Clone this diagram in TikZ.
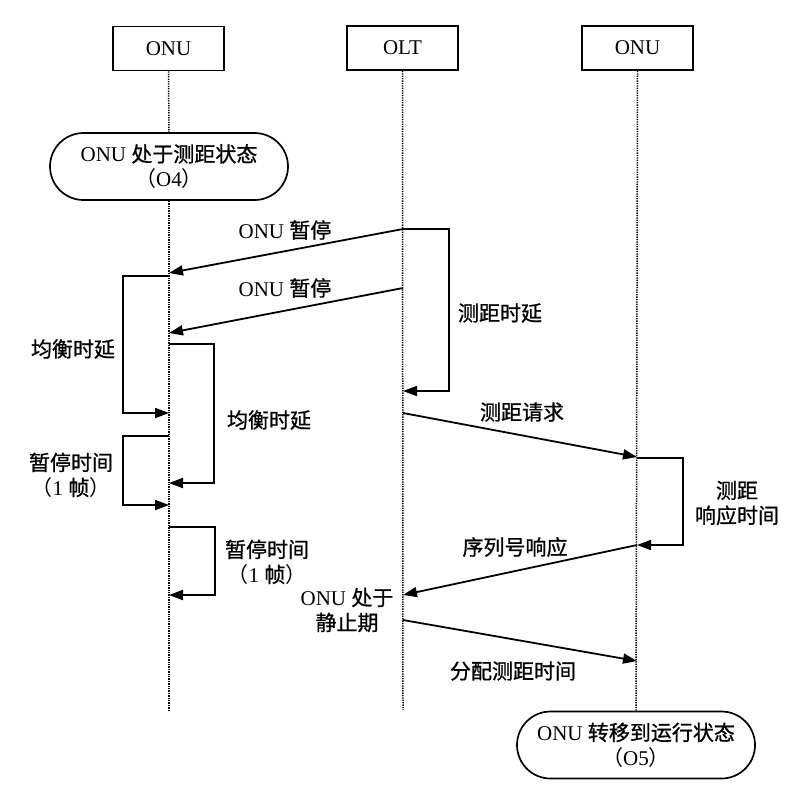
\documentclass[tikz,border=0pt]{standalone}
\usepackage{fontspec}
\setmainfont{Liberation Serif}
\newfontfamily\cjk[FakeBold=0.9]{Noto Sans CJK SC}
\newfontfamily\cjkplain{Noto Sans CJK SC}
\newcommand\zhtext[1]{{\cjk #1}}
\newcommand\zhparen[1]{{\cjkplain #1}}
\usetikzlibrary{arrows.meta,shapes.misc}
\begin{document}
\begin{tikzpicture}[x=1pt,y=-1pt,
  every node/.style={font=\fontsize{21}{25}\selectfont},
  box/.style={draw,line width=1.7pt,minimum width=111pt,minimum height=44pt,inner sep=0pt},
  state/.style={draw,line width=1.7pt,rounded rectangle,minimum width=238pt,minimum height=67pt,align=center,inner sep=0pt},
  life/.style={line width=1.5pt,dash pattern=on 1.3pt off 1.1pt},
  msg/.style={line width=1.8pt,-{Triangle[length=14pt,width=10pt]}},
  lbl/.style={align=center,inner sep=0pt}]
\useasboundingbox (0,0) rectangle (791,788);

% lifeline heads
\node[box] (onuL) at (168.5,48.5) {ONU};
\node[box] (olt) at (402.5,48) {OLT};
\node[box] (onuR) at (637.5,48) {ONU};

% states
\node[state] (st1) at (169,166.5) {ONU \zhtext{处于测距状态}\\\zhparen{（}O4\zhparen{）}};
\node[state] (st2) at (636,745) {ONU \zhtext{转移到运行状态}\\\zhparen{（}O5\zhparen{）}};

% lifeline ends
\coordinate (endL) at (169,710);
\coordinate (endO) at (403,710);

\draw[life] (onuL.south) -- (st1.north);
\draw[life] (st1.south) -- (endL);
\draw[life] (olt.south) -- (endO);
\draw[life] (onuR.south) -- (st2.north);

% message points
\coordinate (p1s) at (403,229);
\coordinate (p1e) at (169,273);
\coordinate (p2s) at (403,288);
\coordinate (p2e) at (169,333);
\coordinate (od) at (403,391);
\coordinate (lb1s) at (169,276);
\coordinate (lb1e) at (169,413);
\coordinate (rb1s) at (169,344);
\coordinate (rb1e) at (169,483);
\coordinate (lb2s) at (169,436);
\coordinate (lb2e) at (169,505);
\coordinate (rb2s) at (169,527);
\coordinate (rb2e) at (169,595);
\coordinate (rqs) at (403,413);
\coordinate (rqe) at (637,457);
\coordinate (rrs) at (637,458);
\coordinate (rre) at (637,545);
\coordinate (sne) at (403,595);
\coordinate (ass) at (403,620);
\coordinate (ase) at (637,661);

% messages
\draw[msg] (p1s) -- (p1e);
\draw[msg] (p2s) -- (p2e);
\draw[msg] (p1s) -- ++(46,0) |- (od);
\draw[msg] (lb1s) -- ++(-46,0) |- (lb1e);
\draw[msg] (rb1s) -- ++(45,0) |- (rb1e);
\draw[msg] (lb2s) -- ++(-46,0) |- (lb2e);
\draw[msg] (rb2s) -- ++(46,0) |- (rb2e);
\draw[msg] (rqs) -- (rqe);
\draw[msg] (rrs) -- ++(46,0) |- (rre);
\draw[msg] (rre) -- (sne);
\draw[msg] (ass) -- (ase);

% labels
\node[lbl] (l1) at (285,230) {ONU \zhtext{暂停}};
\node[lbl] (l2) at (285,288) {ONU \zhtext{暂停}};
\node[lbl] (l3) at (500,313) {\zhtext{测距时延}};
\node[lbl] (l4) at (73,349) {\zhtext{均衡时延}};
\node[lbl] (l5) at (269,420) {\zhtext{均衡时延}};
\node[lbl] (l6) at (71,475) {\zhtext{暂停时间}\\\zhparen{（}1 \zhtext{帧}\zhparen{）}};
\node[lbl] (l7) at (267,562) {\zhtext{暂停时间}\\\zhparen{（}1 \zhtext{帧}\zhparen{）}};
\node[lbl] (l8) at (522,412) {\zhtext{测距请求}};
\node[lbl] (l9) at (737,503) {\zhtext{测距}\\\zhtext{响应时间}};
\node[lbl] (l10) at (515,547) {\zhtext{序列号响应}};
\node[lbl] (l11) at (347,610) {ONU \zhtext{处于}\\\zhtext{静止期}};
\node[lbl] (l12) at (513,671) {\zhtext{分配测距时间}};
\end{tikzpicture}
\end{document}
